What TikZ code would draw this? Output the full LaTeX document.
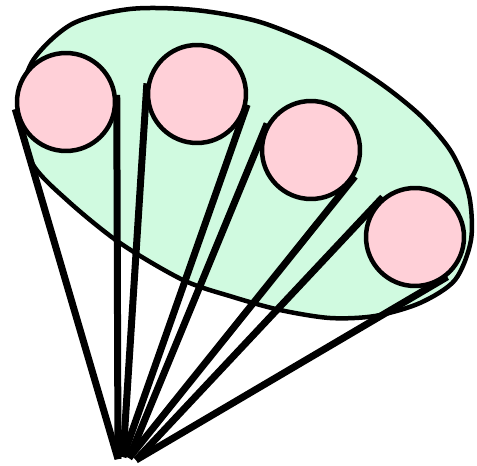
\documentclass[tikz,border=0pt]{standalone}
\definecolor{mint}{RGB}{208,250,224}
\definecolor{blush}{RGB}{255,208,216}
\begin{document}
\begin{tikzpicture}[x=0.02cm, y=-0.02cm,
    ball/.style={circle, draw, line width=0.09cm, fill=blush, minimum size=1.96cm, inner sep=0pt},
    cord/.style={line width=0.14cm}]
  \useasboundingbox (0,0) rectangle (477,466);
  % the tilted bag behind the balls
  \filldraw[fill=mint, line width=0.09cm] plot[smooth cycle] coordinates {
    (20,112) (32,62) (72,24) (130,9) (195,10) (260,22) (325,49) (380,83)
    (422,117) (452,153) (469,195) (471,240) (455,280) (420,303) (375,316)
    (330,318) (280,310) (233,297) (183,280) (120,243) (68,201) (32,163)};
  \node[ball] (c1) at (66,102) {};
  \node[ball] (c2) at (197,94) {};
  \node[ball] (c3) at (311,150) {};
  \node[ball] (c4) at (415,237) {};
  \coordinate (tip1) at (118,459);
  \coordinate (tip2) at (123,457);
  \coordinate (tip3) at (129,458);
  \coordinate (tip4) at (136,460);
  \draw[cord] (c1.188) -- (tip1);
  \draw[cord] (c1.8) -- (tip1);
  \draw[cord] (c2.168) -- (tip2);
  \draw[cord] (c2.348) -- (tip2);
  \draw[cord] (c3.149) -- (tip3);
  \draw[cord] (c3.329) -- (tip3);
  \draw[cord] (c4.129) -- (tip4);
  \draw[cord] (c4.309) -- (tip4);
\end{tikzpicture}
\end{document}
